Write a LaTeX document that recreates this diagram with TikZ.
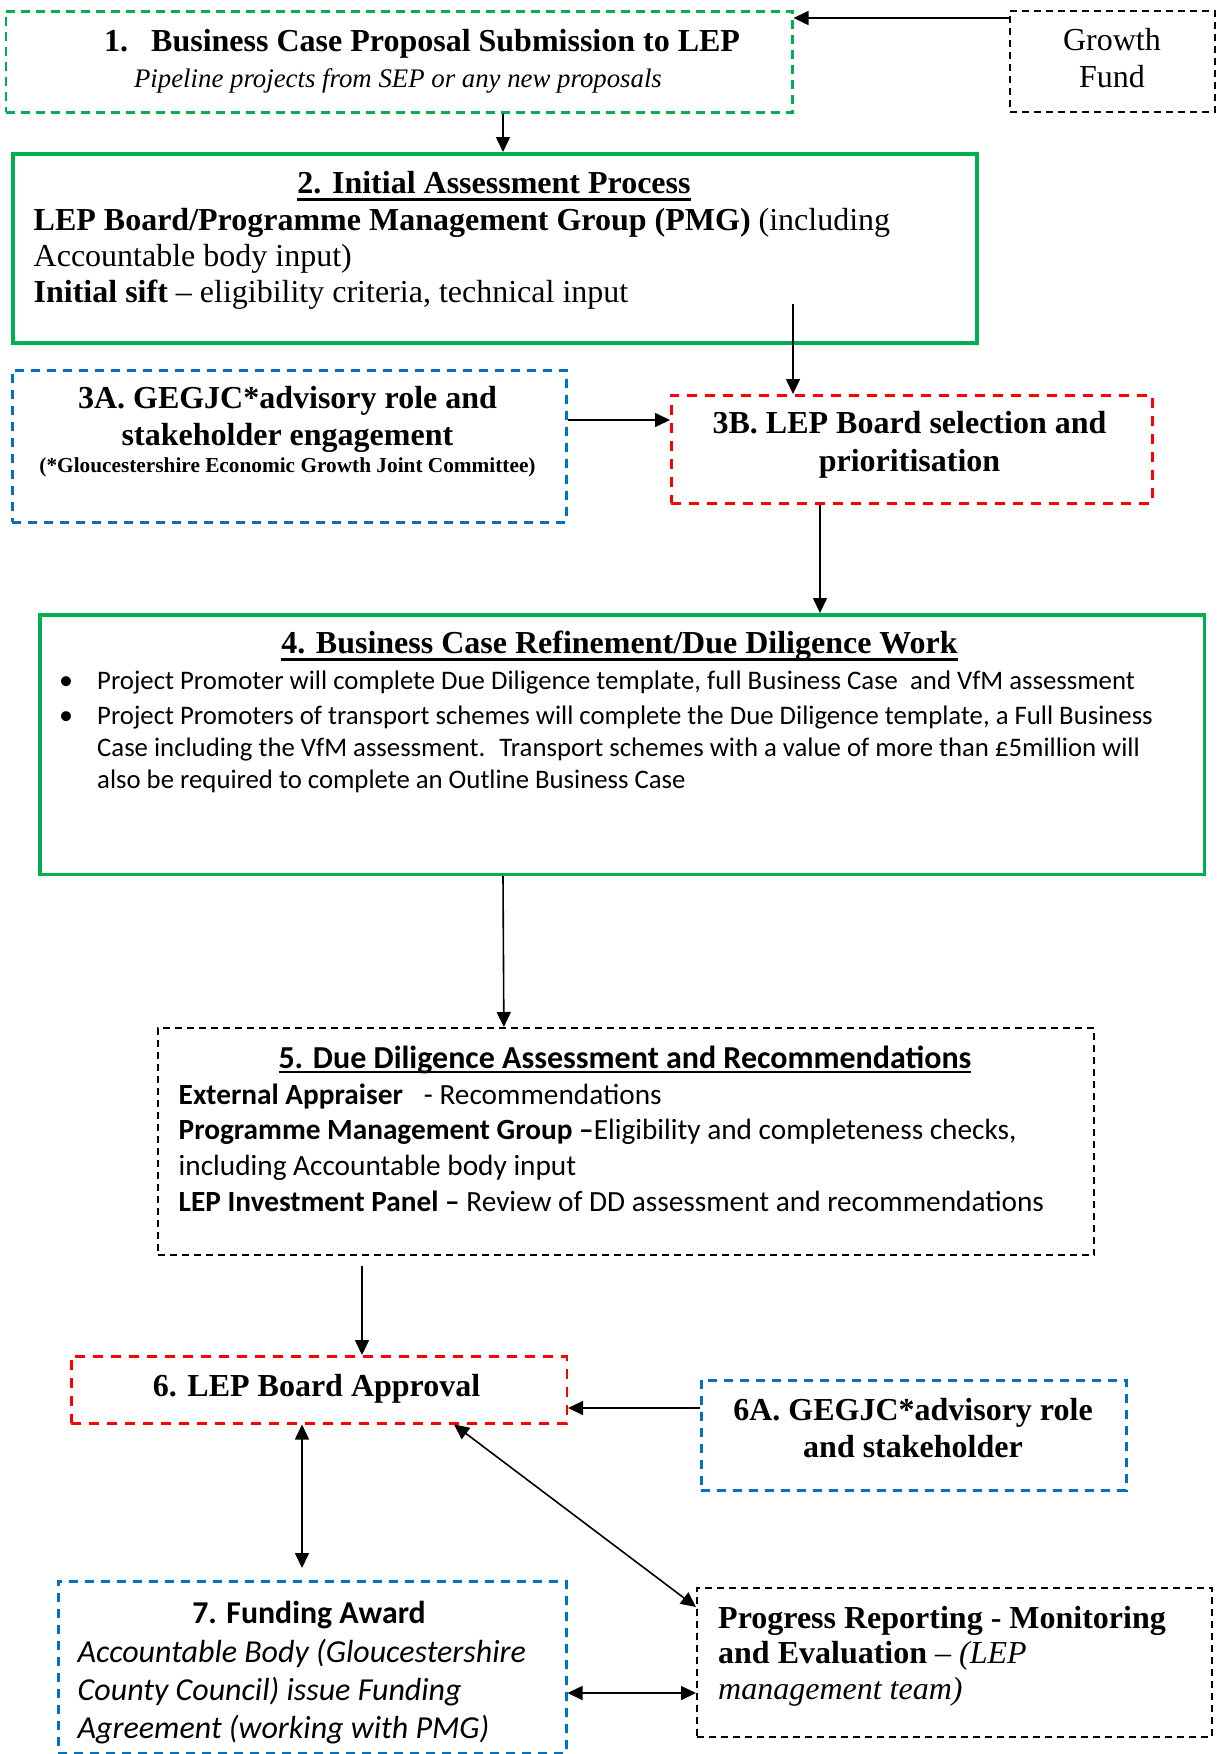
\documentclass[tikz,border=0pt]{standalone}
\usepackage{fontspec}
\setmainfont{Liberation Serif}
\newfontfamily\calib{Carlito}
\usetikzlibrary{arrows.meta}
\definecolor{lgreen}{HTML}{00B050}
\definecolor{lblue}{HTML}{0070C0}
\definecolor{lred}{HTML}{FF0000}
\newcommand{\myul}[3]{\setbox0\hbox{#3}\rlap{\rule[-#1]{\wd0}{#2}}\box0}
\newcommand{\fs}[1]{\fontsize{#1}{#1}\selectfont}
\begin{document}
\begin{tikzpicture}[x=1pt,y=-1pt,
  box/.style={draw, rectangle, inner sep=0pt, anchor=north west},
  gdash/.style={box, draw=lgreen, line width=2.5pt, dash pattern=on 9pt off 6pt},
  gsolid/.style={box, draw=lgreen, line width=3.5pt},
  bdash/.style={box, draw=lblue, line width=2.5pt, dash pattern=on 9pt off 7pt},
  rdash/.style={box, draw=lred, line width=2.5pt, dash pattern=on 10pt off 8pt},
  kdash/.style={box, draw=black, line width=2.2pt, dash pattern=on 7pt off 5pt},
  txt/.style={inner sep=0pt, anchor=base west},
  ctxt/.style={inner sep=0pt, anchor=base},
  arr/.style={line width=1.6pt, -{Triangle[length=15pt,width=14pt]}},
  darr/.style={line width=1.6pt, {Triangle[length=15pt,width=14pt]}-{Triangle[length=15pt,width=14pt]}},
]
\useasboundingbox[fill=white] (0,0) rectangle (1217,1754);

% boxes
\node[gdash, minimum width=786.5pt, minimum height=101pt] (b1) at (4.5,10) {};
\node[kdash, minimum width=205pt, minimum height=101pt] (gf) at (1009,10) {};
\node[gsolid, minimum width=964pt, minimum height=189pt] (b2) at (11,152) {};
\node[bdash, minimum width=554pt, minimum height=152pt] (b3a) at (11,369) {};
\node[rdash, minimum width=481pt, minimum height=108pt] (b3b) at (670,394) {};
\node[gsolid, minimum width=1164.5pt, minimum height=259.5pt] (b4) at (38,613) {};
\node[kdash, minimum width=936.5pt, minimum height=227pt] (b5) at (156.5,1027) {};
\node[rdash, minimum width=495.5pt, minimum height=67pt] (b6) at (70,1355) {};
\node[bdash, minimum width=425pt, minimum height=110pt] (b6a) at (700,1379) {};
\node[bdash, minimum width=508pt, minimum height=172pt] (b7) at (57,1580) {};
\node[kdash, minimum width=515pt, minimum height=149pt] (b8) at (696,1587) {};

% texts box 1
\node[txt, font=\fs{32}\bfseries] (t1n) at (104,51) {1.};
\node[txt, font=\fs{32}\bfseries] (t1a) at (151,51) {Business Case Proposal Submission to LEP};
\node[ctxt, font=\fs{26.8}\itshape] (t1b) at (398,87) {Pipeline projects from SEP or any new proposals};
% growth fund
\node[ctxt, font=\fs{32}] (tg1) at (1112,50) {Growth};
\node[ctxt, font=\fs{32}] (tg2) at (1112,87) {Fund};
% box 2
\node[ctxt, font=\fs{32}\bfseries] (t2a) at (494,193) {\myul{7.5pt}{3pt}{2. Initial Assessment Process}};
\node[txt, font=\fs{32}] (t2b) at (33.5,230) {\textbf{LEP Board/Programme Management Group (PMG)} (including};
\node[txt, font=\fs{32}] (t2c) at (33.5,266) {Accountable body input)};
\node[txt, font=\fs{32}] (t2d) at (33.5,302) {\textbf{Initial sift} – eligibility criteria, technical input};
% 3A
\node[ctxt, font=\fs{32}\bfseries] (t3a1) at (287.5,408) {3A. GEGJC*advisory role and};
\node[ctxt, font=\fs{32}\bfseries] (t3a2) at (287.5,445) {stakeholder engagement};
\node[ctxt, font=\fs{21.3}\bfseries] (t3a3) at (287.5,472) {(*Gloucestershire Economic Growth Joint Committee)};
% 3B
\node[ctxt, font=\fs{32}\bfseries] (t3b1) at (909.5,433) {3B. LEP Board selection and};
\node[ctxt, font=\fs{32}\bfseries] (t3b2) at (909.5,471) {prioritisation};
% box 4
\node[ctxt, font=\fs{32}\bfseries] (t4a) at (619.5,653) {\myul{7.5pt}{3pt}{4. Business Case Refinement/Due Diligence Work}};
\node[ctxt, font=\fs{28}\calib] (t4u1) at (66,689) {•};
\node[ctxt, font=\fs{28}\calib] (t4u2) at (66,724) {•};
\node[txt, font=\fs{26.75}\calib] (t4b) at (97,689) {Project Promoter will complete Due Diligence template, full Business Case \ and VfM assessment};
\node[txt, font=\fs{26.75}\calib] (t4c) at (97,724) {Project Promoters of transport schemes will complete the Due Diligence template, a Full Business};
\node[txt, font=\fs{26.75}\calib] (t4d) at (97,756) {Case including the VfM assessment. \ Transport schemes with a value of more than £5million will};
\node[txt, font=\fs{26.75}\calib] (t4e) at (97,788) {also be required to complete an Outline Business Case};
% box 5
\node[ctxt, font=\fs{32}\calib\bfseries] (t5a) at (625,1068) {\myul{5pt}{2.5pt}{5. Due Diligence Assessment and Recommendations}};
\node[txt, font=\fs{29.3}\calib] (t5b) at (178.5,1104) {\textbf{External Appraiser}\hspace{21pt}- Recommendations};
\node[txt, font=\fs{29.3}\calib] (t5c) at (178.5,1139) {\textbf{Programme Management Group –}Eligibility and completeness checks,};
\node[txt, font=\fs{29.3}\calib] (t5d) at (178.5,1175) {including Accountable body input};
\node[txt, font=\fs{29.3}\calib] (t5e) at (178.5,1211) {\textbf{LEP Investment Panel –} Review of DD assessment and recommendations};
% box 6
\node[ctxt, font=\fs{32}\bfseries] (t6) at (316.5,1396) {6. LEP Board Approval};
% 6A
\node[ctxt, font=\fs{32}\bfseries] (t6a1) at (913,1420) {6A. GEGJC*advisory role};
\node[ctxt, font=\fs{32}\bfseries] (t6a2) at (913,1457) {and stakeholder};
% box 7
\node[ctxt, font=\fs{31.8}\calib\bfseries] (t7a) at (309,1623) {7. Funding Award};
\node[txt, font=\fs{32}\calib\itshape] (t7b) at (77.5,1662) {Accountable Body (Gloucestershire};
\node[txt, font=\fs{32}\calib\itshape] (t7c) at (77.5,1700) {County Council) issue Funding};
\node[txt, font=\fs{32}\calib\itshape] (t7d) at (77.5,1738) {Agreement (working with PMG)};
% progress
\node[txt, font=\fs{32}\bfseries] (t8a) at (718,1628) {Progress Reporting - Monitoring};
\node[txt, font=\fs{32}] (t8b) at (718,1663) {\textbf{and Evaluation} \textit{– (LEP}};
\node[txt, font=\fs{32}\itshape] (t8c) at (718,1699) {management team)};

% connectors
\coordinate (c2) at (793,304);
\coordinate (c5) at (362,1266);
\draw[arr] ([yshift=-8pt]gf.north west) -- ([yshift=-8pt]gf.north west -| b1.east);
\draw[arr] ([xshift=104pt]b1.south) -- ([xshift=104pt]b1.south |- b2.north);
\draw[arr] (c2) -- (c2 |- b3b.north);
\draw[arr] ([yshift=-51pt]b3a.north east) -- ([yshift=-51pt]b3a.north east -| b3b.west);
\draw[arr] ([xshift=150pt]b3b.south west) -- ([xshift=150pt]b3b.south west |- b4.north);
\draw[arr] ([xshift=-119pt]b4.south) -- ([xshift=-122pt]b5.north);
\draw[arr] (c5) -- (c5 |- b6.north);
\draw[arr] ([yshift=-29pt]b6a.north west) -- ([yshift=-29pt]b6a.north west -| b6.east);
\draw[darr, shorten >=12pt] ([xshift=232pt]b6.south west) -- ([xshift=232pt]b6.south west |- b7.north);
\draw[darr] ([xshift=384pt]b6.south west) -- ([yshift=-20pt]b8.north west);
\draw[darr] ([yshift=-106pt]b8.north west -| b7.east) -- ([yshift=-106pt]b8.north west);
\end{tikzpicture}
\end{document}
